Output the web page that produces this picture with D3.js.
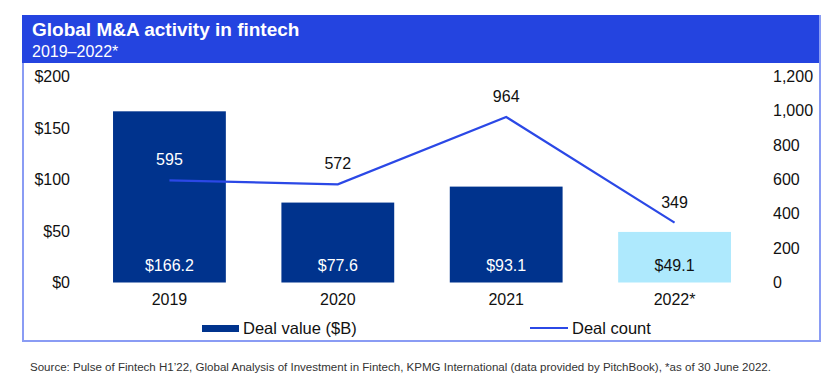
<!DOCTYPE html>
<html><head><meta charset="utf-8">
<script src="https://cdn.jsdelivr.net/npm/d3@7"></script>
<style>
html,body{margin:0;padding:0;background:#fff;}
text{font-family:"Liberation Sans",Arial,sans-serif;}
</style></head>
<body><svg id="c" width="839" height="392"></svg>
<script>
const categories = ["2019","2020","2021","2022*"];
const dealValue = [166.2, 77.6, 93.1, 49.1];
const dealValueLabels = ["$166.2","$77.6","$93.1","$49.1"];
const dealCount = [595, 572, 964, 349];
const leftTicks = [0,50,100,150,200];
const rightTicks = [0,200,400,600,800,1000,1200];
const title = "Global M&A activity in fintech";
const subtitle = "2019\u20132022*";
const source = "Source: Pulse of Fintech H1\u201922, Global Analysis of Investment in Fintech, KPMG International (data provided by PitchBook), *as of 30 June 2022.";

const svg = d3.select("#c");
const frameColor = "#8a9cf4";
const headColor = "#2444e0";
const dark = "#00338d";
const light = "#aee9fd";
const lineColor = "#2b48e6";

// frame
svg.append("rect").attr("x",22).attr("y",15).attr("width",798).attr("height",48).attr("fill",headColor);
svg.append("path").attr("d","M23,63 V341 H820 V15").attr("fill","none").attr("stroke",frameColor).attr("stroke-width",2);
svg.append("text").attr("x",32).attr("y",36).attr("fill","#fff").attr("font-size",19).attr("font-weight","bold").text(title);
svg.append("text").attr("x",32).attr("y",57).attr("fill","#fff").attr("font-size",16).text(subtitle);

const x = d3.scaleBand().domain(categories).range([85.25,758.75]).paddingInner(0.33).paddingOuter(0.165);
const y = d3.scaleLinear().domain([0,200]).range([282.5,76.5]);
const y2 = d3.scaleLinear().domain([0,1200]).range([282.5,76.5]);

// axes
const la = svg.append("g").attr("transform","translate(76,0)")
  .call(d3.axisLeft(y).tickValues(leftTicks).tickFormat(d=>"$"+d).tickSize(0).tickPadding(6));
la.select(".domain").remove();
la.selectAll("text").attr("font-size",16).attr("fill","#111").attr("font-family","Liberation Sans, Arial, sans-serif");
const ra = svg.append("g").attr("transform","translate(767,0)")
  .call(d3.axisRight(y2).tickValues(rightTicks).tickFormat(d3.format(",")).tickSize(0).tickPadding(6));
ra.select(".domain").remove();
ra.selectAll("text").attr("font-size",16).attr("fill","#111").attr("font-family","Liberation Sans, Arial, sans-serif");
const xa = svg.append("g").attr("transform","translate(0,290)")
  .call(d3.axisBottom(x).tickSize(0).tickPadding(4));
xa.select(".domain").remove();
xa.selectAll("text").attr("font-size",16).attr("fill","#111").attr("font-family","Liberation Sans, Arial, sans-serif");

// bars
svg.selectAll(".bar").data(categories).enter().append("rect")
  .attr("x",d=>x(d)).attr("width",x.bandwidth())
  .attr("y",(d,i)=>y(dealValue[i])).attr("height",(d,i)=>y(0)-y(dealValue[i]))
  .attr("fill",(d,i)=>i===3?light:dark);
svg.selectAll(".bl").data(categories).enter().append("text")
  .attr("x",d=>x(d)+x.bandwidth()/2).attr("y",271).attr("text-anchor","middle")
  .attr("font-size",16).attr("fill",(d,i)=>i===3?"#111":"#fff")
  .text((d,i)=>dealValueLabels[i]);

// line
const line = d3.line().x((d,i)=>x(categories[i])+x.bandwidth()/2).y(d=>y2(d));
svg.append("path").datum(dealCount).attr("d",line).attr("fill","none").attr("stroke",lineColor).attr("stroke-width",2.2);
svg.selectAll(".ll").data(dealCount).enter().append("text")
  .attr("x",(d,i)=>x(categories[i])+x.bandwidth()/2).attr("y",d=>y2(d)-15).attr("text-anchor","middle")
  .attr("font-size",16).attr("fill",(d,i)=>i===0?"#fff":"#111").text(d=>d);

// legend
svg.append("rect").attr("x",202).attr("y",325).attr("width",37).attr("height",7).attr("fill",dark);
svg.append("text").attr("x",243).attr("y",334).attr("font-size",16.5).attr("fill","#111").text("Deal value ($B)");
svg.append("line").attr("x1",530).attr("x2",568).attr("y1",328).attr("y2",328).attr("stroke",lineColor).attr("stroke-width",2);
svg.append("text").attr("x",572).attr("y",334).attr("font-size",16.5).attr("fill","#111").text("Deal count");

// source
svg.append("text").attr("x",30).attr("y",371).attr("font-size",10).attr("fill","#333")
  .attr("textLength",741).attr("lengthAdjust","spacingAndGlyphs").text(source);
</script></body></html>
